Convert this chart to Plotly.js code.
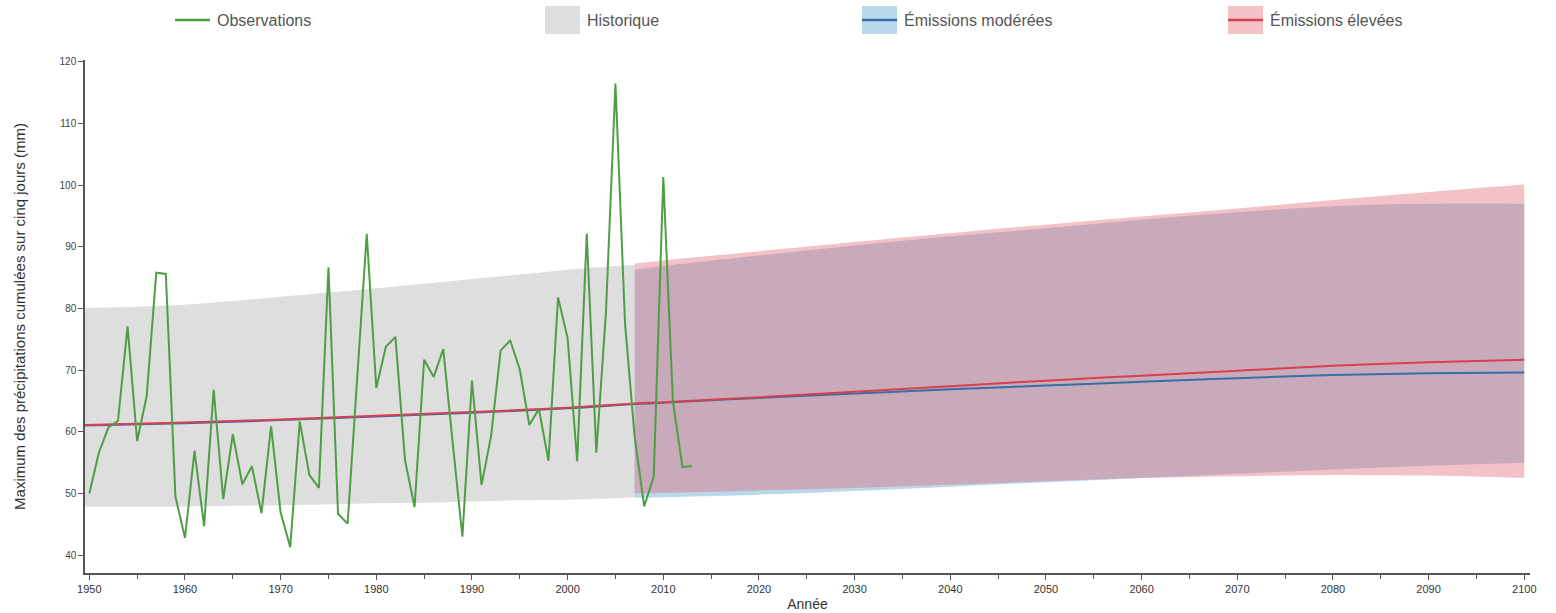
<!DOCTYPE html>
<html><head><meta charset="utf-8">
<script src="https://cdn.plot.ly/plotly-3.0.1.min.js"></script>
<style>html,body{margin:0;padding:0;background:#fff}#chart{width:1556px;height:613px}</style>
</head><body><div id="chart"></div>
<script>
// ---- Data ----
const obsYears = [1950,1951,1952,1953,1954,1955,1956,1957,1958,1959,1960,1961,1962,1963,1964,1965,1966,1967,1968,1969,
  1970,1971,1972,1973,1974,1975,1976,1977,1978,1979,1980,1981,1982,1983,1984,1985,1986,1987,1988,1989,
  1990,1991,1992,1993,1994,1995,1996,1997,1998,1999,2000,2001,2002,2003,2004,2005,2006,2007,2008,2009,
  2010,2011,2012,2013];
const obsValues = [50.0,56.6,60.7,61.8,77.1,58.5,65.8,85.8,85.6,49.5,42.8,56.9,44.7,66.8,49.1,59.6,51.5,54.4,46.8,60.9,
  46.9,41.3,61.7,53.0,50.9,86.7,46.7,45.1,68.6,92.1,67.1,73.8,75.4,55.4,47.8,71.7,68.9,73.4,58.0,43.0,
  68.3,51.4,59.3,73.2,74.8,70.1,61.1,63.7,55.3,81.8,75.2,55.2,92.1,56.6,79.2,116.5,77.6,59.3,47.9,52.7,
  101.3,65.0,54.3,54.4];

const histYears = [1949,1955,1960,1965,1970,1975,1980,1985,1990,1995,2000,2007];
const histUpper = [80.1,80.3,80.6,81.2,81.9,82.6,83.3,84.0,84.8,85.5,86.3,87.1];
const histLower = [47.9,47.9,47.9,48.0,48.1,48.2,48.4,48.5,48.7,48.9,49.0,49.4];

const projYears   = [2007,2010,2020,2030,2040,2050,2060,2070,2080,2090,2100];
const modUpper    = [86.3,86.9,88.6,90.2,91.7,93.0,94.4,95.6,96.6,97.0,97.0];
const modLower    = [49.3,49.4,49.8,50.4,51.1,51.8,52.5,53.2,53.9,54.5,55.0];
const highUpper   = [87.3,87.8,89.3,90.8,92.2,93.6,94.9,96.2,97.6,98.9,100.1];
const highLower   = [50.0,50.1,50.5,50.9,51.4,52.0,52.5,52.8,53.0,52.9,52.5];

const medYears    = [1949,1960,1970,1980,1990,2000,2007,2010,2020,2030,2040,2050,2060,2070,2080,2090,2100];
const medModerate = [61.0,61.4,61.9,62.5,63.1,63.8,64.5,64.7,65.5,66.2,66.9,67.5,68.1,68.7,69.2,69.5,69.6];
const medHigh     = [61.1,61.5,62.0,62.6,63.2,63.9,64.6,64.8,65.6,66.5,67.4,68.3,69.1,69.9,70.7,71.3,71.7];

const legendLabels = ['Observations','Historique','Émissions modérées','Émissions élevées'];

// ---- Styles ----
const C = {
  obs: '#4f9e46',
  hist: '#dedede',
  modFill: 'rgba(80,157,202,0.4)',
  highFill: 'rgba(222,102,117,0.4)',
  modLine: '#3a6ea6',
  highLine: '#d8404f'
};

const traces = [
  {x: histYears, y: histLower, mode:'lines', line:{width:0, shape:'spline'}, hoverinfo:'skip', showlegend:false},
  {x: histYears, y: histUpper, mode:'lines', line:{width:0, shape:'spline'}, fill:'tonexty', fillcolor:C.hist, name:'Historique', showlegend:false},
  {x: projYears, y: modLower, mode:'lines', line:{width:0, shape:'spline'}, hoverinfo:'skip', showlegend:false},
  {x: projYears, y: modUpper, mode:'lines', line:{width:0, shape:'spline'}, fill:'tonexty', fillcolor:C.modFill, name:'Émissions modérées', showlegend:false},
  {x: projYears, y: highLower, mode:'lines', line:{width:0, shape:'spline'}, hoverinfo:'skip', showlegend:false},
  {x: projYears, y: highUpper, mode:'lines', line:{width:0, shape:'spline'}, fill:'tonexty', fillcolor:C.highFill, name:'Émissions élevées', showlegend:false},
  {x: medYears, y: medModerate, mode:'lines', line:{width:2, color:C.modLine, shape:'spline'}, name:'Émissions modérées', showlegend:false},
  {x: medYears, y: medHigh, mode:'lines', line:{width:2, color:C.highLine, shape:'spline'}, name:'Émissions élevées', showlegend:false},
  {x: obsYears, y: obsValues, mode:'lines', line:{width:2, color:C.obs}, name:'Observations', showlegend:false}
];

// ---- Custom legend (pixel helpers) ----
const PL = 85, PR = 1530, PT = 60, PB = 573;
const px = v => (v - PL) / (PR - PL);
const py = v => (PB - v) / (PB - PT);
const legendX = [175, 545, 862, 1228];
const LY = 20;
const shapes = [];
const annotations = [];
shapes.push({type:'line', xref:'paper', yref:'paper', x0:px(legendX[0]), x1:px(legendX[0]+35), y0:py(LY), y1:py(LY), line:{color:C.obs, width:2.5}});
shapes.push({type:'rect', xref:'paper', yref:'paper', x0:px(legendX[1]), x1:px(legendX[1]+35), y0:py(LY-14), y1:py(LY+14), fillcolor:C.hist, line:{width:0}});
shapes.push({type:'rect', xref:'paper', yref:'paper', x0:px(legendX[2]), x1:px(legendX[2]+35), y0:py(LY-14), y1:py(LY+14), fillcolor:C.modFill, line:{width:0}});
shapes.push({type:'line', xref:'paper', yref:'paper', x0:px(legendX[2]), x1:px(legendX[2]+35), y0:py(LY), y1:py(LY), line:{color:C.modLine, width:2.5}});
shapes.push({type:'rect', xref:'paper', yref:'paper', x0:px(legendX[3]), x1:px(legendX[3]+35), y0:py(LY-14), y1:py(LY+14), fillcolor:C.highFill, line:{width:0}});
shapes.push({type:'line', xref:'paper', yref:'paper', x0:px(legendX[3]), x1:px(legendX[3]+35), y0:py(LY), y1:py(LY), line:{color:C.highLine, width:2.5}});
legendLabels.forEach((t, i) => {
  annotations.push({xref:'paper', yref:'paper', x:px(legendX[i]+40), y:py(LY), text:t, showarrow:false,
    xanchor:'left', yanchor:'middle', font:{size:16, color:'#555', family:'Liberation Sans, Arial, sans-serif'}});
});

const layout = {
  width:1556, height:613,
  margin:{l:PL, r:1556-PR, t:PT, b:613-PB},
  paper_bgcolor:'#fff', plot_bgcolor:'#fff',
  font:{family:'Liberation Sans, Arial, sans-serif', color:'#333'},
  showlegend:false,
  xaxis:{range:[1949.55, 2100.6], tick0:1950, dtick:10, ticks:'outside', ticklen:5, tickwidth:1, tickcolor:'#555',
    showline:true, linecolor:'#555', linewidth:1.5, showgrid:false, zeroline:false,
    minor:{dtick:5, tick0:1950, ticks:'outside', ticklen:4, tickcolor:'#555', showgrid:false},
    tickfont:{size:11, color:'#333'},
    title:{text:'Année', font:{size:14, color:'#333'}, standoff:5}},
  yaxis:{range:[37.1, 120.3], tick0:0, dtick:10, ticks:'outside', ticklen:5, tickwidth:1, tickcolor:'#555',
    showline:true, linecolor:'#555', linewidth:1.5, showgrid:false, zeroline:false,
    tickfont:{size:10, color:'#444'},
    title:{text:'Maximum des précipitations cumulées sur cinq jours (mm)', font:{size:15, color:'#333'}, standoff:30}},
  shapes: shapes,
  annotations: annotations
};

Plotly.newPlot('chart', traces, layout, {displayModeBar:false, responsive:false});
</script>
</body></html>
